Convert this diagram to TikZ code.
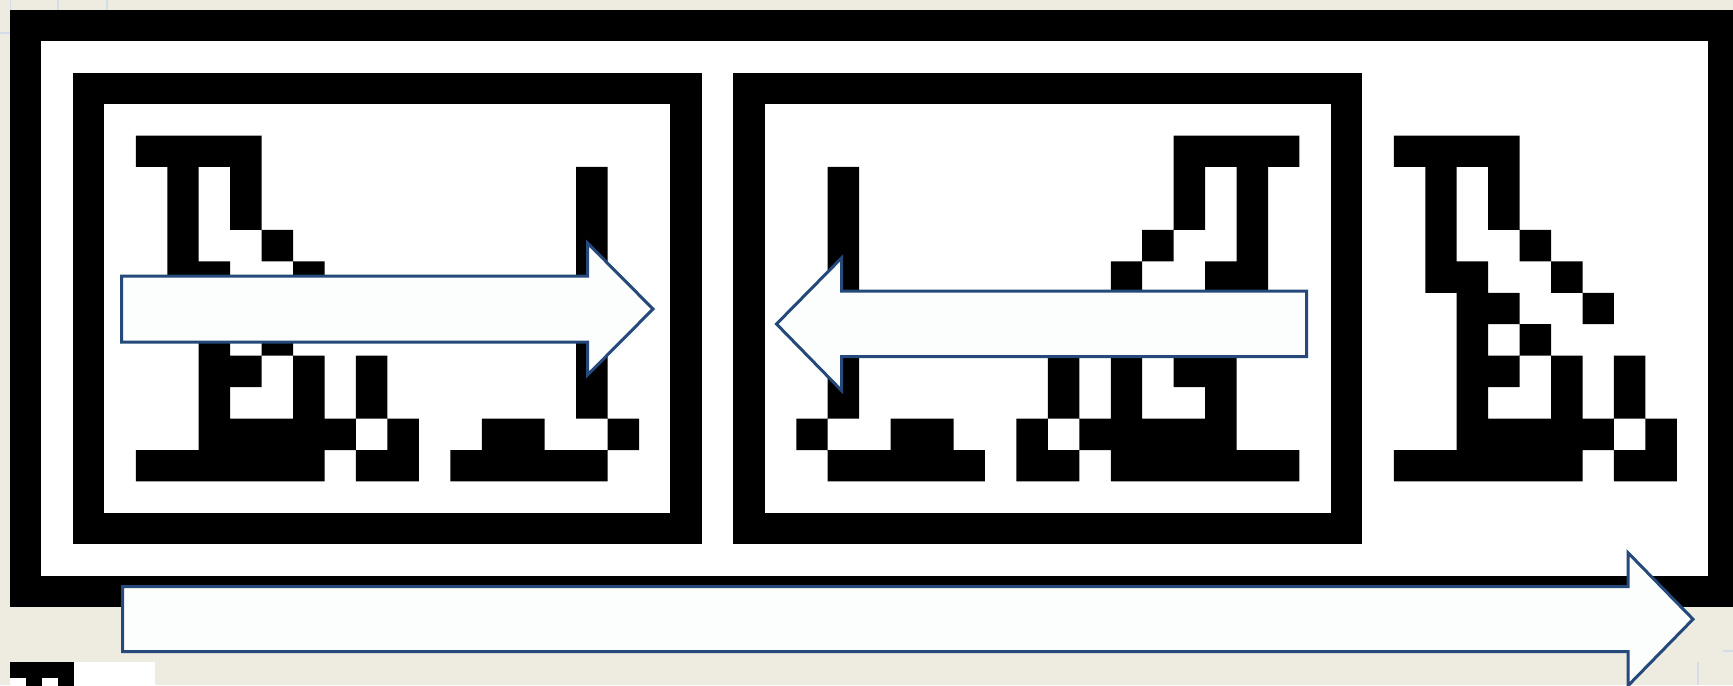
\documentclass[tikz,border=0pt]{standalone}
\definecolor{bg}{HTML}{EEECE1}
\definecolor{arrowline}{HTML}{24497A}
\definecolor{arrowfill}{HTML}{FCFEFD}
\definecolor{gridline}{HTML}{D3DDE9}
\newcommand\glyphA[2]{\fill[black] foreach \i/\r in {0/4,1/4,2/4,3/4, 1/5,3/5, 1/6,3/6, 1/7,4/7, 1/8,2/8,5/8, 2/9,3/9,6/9, 2/10,4/10, 2/11,3/11,5/11,7/11, 2/12,5/12,7/12, 2/13,3/13,4/13,5/13,6/13,8/13, 0/14,1/14,2/14,3/14,4/14,5/14,7/14,8/14} {({#1+(#2)*\i},\r) rectangle ++(1,1)};}
\newcommand\glyphB[2]{\fill[black] foreach \i/\r in {4/5,4/6,4/7,4/8,4/9,4/10,4/11,4/12, 1/13,2/13,5/13, 0/14,1/14,2/14,3/14,4/14} {({#1+(#2)*\i},\r) rectangle ++(1,1)};}
\begin{document}
\begin{tikzpicture}[x=0.5pt,y=-0.5pt,
  blockarrow/.style={draw=arrowline, fill=arrowfill, line width=1.5pt, line join=miter},
  gline/.style={draw=gridline, line width=0.75pt}]
\useasboundingbox (0,0) rectangle (1733,685);
\clip (0,0) rectangle (1733,685);
\fill[bg] (0,0) rectangle (1733,685);
% faint sheet grid lines
\draw[gline] (10.5,0) -- (10.5,10);
\draw[gline] (58,0) -- (58,10);
\draw[gline] (107,0) -- (107,10);
\draw[gline] (0,33) -- (10,33);
\draw[gline] (1698,662) -- (1698,685);
\draw[gline] (1723,651) -- (1733,651);
% pixel picture
\begin{scope}[shift={(5pt,-4.85pt)}, x=15.725pt, y=-15.725pt]
  \fill[black] (0,0) rectangle (56,19);
  \fill[white] (1,1) rectangle (54,18);
  \fill[black] (2,2) rectangle (22,17);
  \fill[white] (3,3) rectangle (21,16);
  \fill[black] (23,2) rectangle (43,17);
  \fill[white] (24,3) rectangle (42,16);
  \glyphA{4}{1}
  \glyphB{14}{1}
  \glyphA{40}{-1}
  \glyphB{30}{-1}
  \glyphA{44}{1}
\end{scope}
% fragment of another picture at bottom left
\fill[white] (10,662) rectangle (155,686);
\fill[black] (10,662) rectangle (74,686);
\fill[white] (10,678) rectangle (26,686);
\fill[white] (42,678) rectangle (58,686);
% block arrows
\draw[blockarrow] (121.5,276) -- (587.5,276) -- (587.5,243) -- (653,309) -- (587.5,375) -- (587.5,342) -- (121.5,342) -- cycle;
\draw[blockarrow] (1306.7,291) -- (841.5,291) -- (841.5,258) -- (776.5,324) -- (841.5,390.5) -- (841.5,356.5) -- (1306.7,356.5) -- cycle;
\draw[blockarrow] (122.7,586.7) -- (1628,586.7) -- (1628,552.7) -- (1693,619.2) -- (1628,685.7) -- (1628,651.7) -- (122.7,651.7) -- cycle;
\end{tikzpicture}
\end{document}
